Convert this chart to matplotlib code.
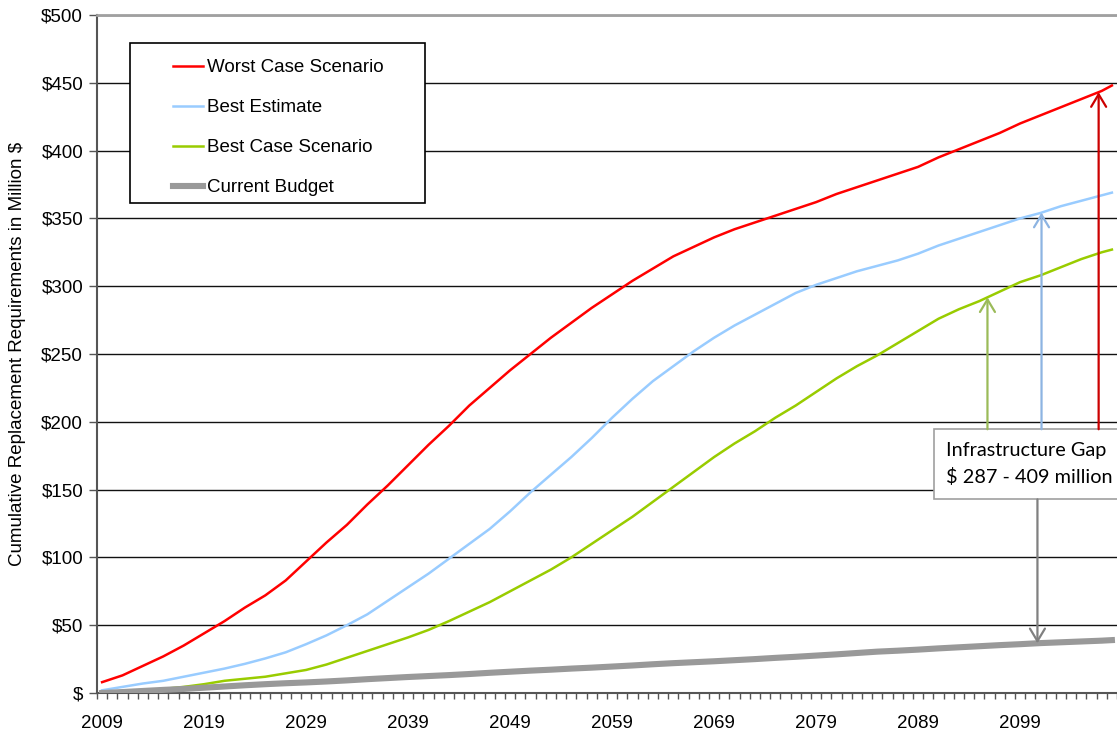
import numpy as np
import matplotlib.pyplot as plt
from matplotlib.patches import Rectangle
from matplotlib.ticker import FixedLocator, FuncFormatter

plt.rcParams['font.family'] = ['Liberation Sans', 'DejaVu Sans']

# cumulative replacement requirements, million $, read every second year
years = list(range(2009, 2108, 2)) + [2108]
worst_case = [8, 13, 20, 27, 35, 44, 53, 63, 72, 83,
              97, 111, 124, 139, 153, 168, 183, 197, 212, 225,
              238, 250, 262, 273, 284, 294, 304, 313, 322, 329,
              336, 342, 347, 352, 357, 362, 368, 373, 378, 383,
              388, 395, 401, 407, 413, 420, 426, 432, 438, 444, 448]
best_estimate = [2, 4.5, 7, 9, 12, 15, 18, 21.5, 25.5, 30,
                 36, 42.5, 50, 58, 68, 78, 88, 99, 110, 121,
                 134, 148, 161, 174, 188, 203, 217, 230, 241, 252,
                 262, 271, 279, 287, 295, 301, 306, 311, 315, 319,
                 324, 330, 335, 340, 345, 350, 354, 359, 363, 367, 369]
best_case = [0.5, 1.5, 2.2, 3, 4.5, 6.5, 9, 10.5, 12, 14.5,
             17, 21, 26, 31, 36, 41, 46.5, 53, 60, 67,
             75, 83, 91, 100, 110, 120, 130, 141, 152, 163,
             174, 184, 193, 203, 212, 222, 232, 241, 249, 258,
             267, 276, 283, 289, 296, 303, 308, 314, 320, 325, 327]
current_budget = [0, 0.7, 1.5, 2.3, 3, 3.9, 4.8, 5.7, 6.5, 7.2,
                  7.8, 8.5, 9.3, 10.2, 11, 11.8, 12.5, 13.2, 14, 14.9,
                  15.7, 16.5, 17.2, 18, 18.7, 19.5, 20.3, 21.2, 22, 22.7,
                  23.4, 24.2, 25, 25.9, 26.7, 27.6, 28.5, 29.5, 30.5, 31.2,
                  32, 32.9, 33.7, 34.5, 35.3, 36, 36.8, 37.4, 38, 38.6, 39]

series_names = ['Worst Case Scenario', 'Best Estimate', 'Best Case Scenario', 'Current Budget']
label_years = list(range(2009, 2100, 10))
gap_lines = ['Infrastructure Gap', '$ 287 - 409 million']

fig = plt.figure(figsize=(11.17, 7.32), dpi=100)
ax = fig.add_axes([97 / 1117, 39 / 732, 1020 / 1117, 678 / 732])

ax.plot(years, worst_case, color='#ff0000', lw=1.8, label=series_names[0], zorder=3)
ax.plot(years, best_estimate, color='#99ccff', lw=1.8, label=series_names[1], zorder=3)
ax.plot(years, best_case, color='#99cc00', lw=1.8, label=series_names[2], zorder=3)
ax.plot(years, current_budget, color='#999999', lw=4.4, label=series_names[3], zorder=3)

ax.set_xlim(2008.5, 2108.5)
ax.set_ylim(0, 500)

# category style x axis: labels on the year, ticks between years
ax.xaxis.set_major_locator(FixedLocator(label_years))
ax.xaxis.set_minor_locator(FixedLocator(np.arange(2008.5, 2109, 1)))
ax.tick_params(axis='x', which='major', length=0, pad=16, labelsize=13.5)
ax.tick_params(axis='x', which='minor', length=4, width=1, color='#555555', direction='out')

ax.yaxis.set_major_locator(FixedLocator(np.arange(0, 501, 50)))
ax.yaxis.set_major_formatter(FuncFormatter(lambda v, p: '$' if v == 0 else '${:.0f}'.format(v)))
ax.tick_params(axis='y', length=6, width=1, color='#555555', direction='out', pad=4, labelsize=13.5)

ax.grid(axis='y', color='#111111', lw=1.0)
ax.set_axisbelow(True)
ax.spines['right'].set_visible(False)
ax.spines['top'].set_color('#a0a0a0')
ax.spines['top'].set_linewidth(2)
ax.spines['left'].set_color('#555555')
ax.spines['left'].set_linewidth(1.5)
ax.spines['bottom'].set_color('#555555')
ax.spines['bottom'].set_linewidth(1.5)

fig.text(18 / 1117, 1 - 354 / 732, 'Cumulative Replacement Requirements in Million $',
         rotation=90, ha='center', va='center', fontsize=13.5)

# legend with a plain black frame
ax.add_patch(Rectangle((0.0324, 0.7227), 0.2892, 0.236, transform=ax.transAxes,
                       facecolor='white', edgecolor='black', lw=1.2, zorder=4))
leg = ax.legend(loc='upper left', bbox_to_anchor=(0.0745, 0.935), frameon=False,
                fontsize=13.5, handlelength=1.6, handletextpad=0.2,
                labelspacing=1.22, borderpad=0, borderaxespad=0)
leg.set_zorder(5)

# gap arrows from the text box to each curve
box_top, box_bottom, box_left = 194.5, 142.8, 2090.55
ax.add_patch(Rectangle((box_left, box_bottom), 2108.5 - box_left + 1, box_top - box_bottom,
                       facecolor='white', edgecolor='#a0a0a0', lw=1.2, zorder=4, clip_on=False))
for x, series, color in [(2095.8, best_case, '#9bbb59'),
                         (2101.1, best_estimate, '#8db4e2'),
                         (2106.7, worst_case, '#cc0000')]:
    tip = np.interp(x, years, series)
    ax.annotate('', xy=(x, tip), xytext=(x, box_top),
                arrowprops=dict(arrowstyle='->,head_length=0.5,head_width=0.3',
                                color=color, lw=1.6, shrinkA=0, shrinkB=0, mutation_scale=18),
                zorder=5)
x = 2100.7
ax.annotate('', xy=(x, np.interp(x, years, current_budget)), xytext=(x, box_bottom),
            arrowprops=dict(arrowstyle='->,head_length=0.5,head_width=0.3',
                            color='#808080', lw=1.6, shrinkA=0, shrinkB=0, mutation_scale=18),
            zorder=5)

for i, line in enumerate(gap_lines):
    ax.text(2091.7, 174.8 - i * 19.7, line, fontsize=14.3, family='Lato',
            color='black', va='baseline', ha='left', zorder=6)

fig.savefig('out.png', dpi=100)
